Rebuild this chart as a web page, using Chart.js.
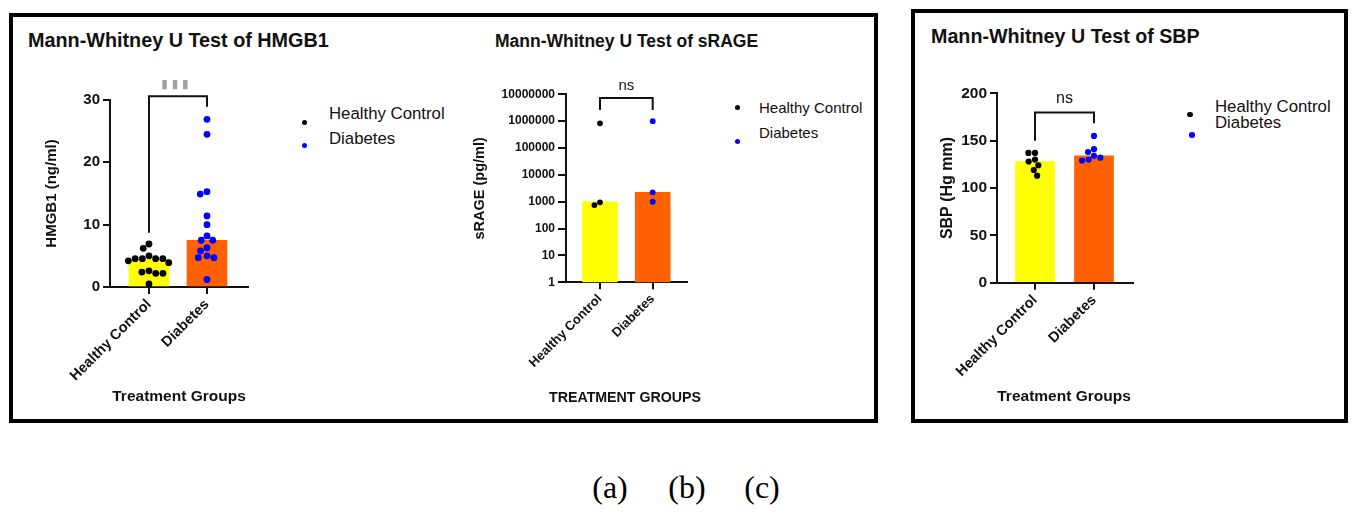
<!DOCTYPE html>
<html>
<head>
<meta charset="utf-8">
<script src="https://cdn.jsdelivr.net/npm/chart.js@4.4.1/dist/chart.umd.min.js"></script>
<style>
body{margin:0;background:#fff;width:1357px;height:514px;position:relative;overflow:hidden;font-family:'Liberation Sans',Arial,sans-serif;}
.box{position:absolute;border:4px solid #000;box-sizing:border-box;}
canvas{position:absolute;}
.t{position:absolute;font-weight:bold;white-space:nowrap;color:#111;line-height:1;}
.xt{position:absolute;font-weight:bold;white-space:nowrap;color:#111;line-height:1;transform:translateX(-50%);}
.lg{position:absolute;white-space:nowrap;color:#111;line-height:1;}
.dot{position:absolute;border-radius:50%;}
.cap{position:absolute;font-family:'Liberation Serif','Times New Roman',serif;font-size:32px;line-height:1;transform:translateX(-50%);}
</style>
</head>
<body>
<div class="box" style="left:9px;top:13px;width:869px;height:410px"></div>
<div class="box" style="left:911px;top:9px;width:437px;height:414px"></div>

<div class="t" style="left:28px;top:31.4px;font-size:19.8px">Mann-Whitney U Test of HMGB1</div>
<div class="t" style="left:495px;top:32.7px;font-size:17.5px">Mann-Whitney U Test of sRAGE</div>
<div class="t" style="left:931px;top:27.3px;font-size:19.7px">Mann-Whitney U Test of SBP</div>

<span class="dot" style="left:302px;top:120px;width:5px;height:5px;background:#000"></span>
<span class="dot" style="left:302px;top:143px;width:5px;height:5px;background:#0000ff"></span>
<div class="lg" style="left:329px;top:105.5px;font-size:16.8px">Healthy Control</div>
<div class="lg" style="left:329px;top:131.1px;font-size:16.8px">Diabetes</div>

<span class="dot" style="left:735px;top:105px;width:5px;height:5px;background:#000"></span>
<span class="dot" style="left:735px;top:138.5px;width:5px;height:5px;background:#0000ff"></span>
<div class="lg" style="left:759px;top:99.7px;font-size:15px">Healthy Control</div>
<div class="lg" style="left:759px;top:124.7px;font-size:15px">Diabetes</div>

<span class="dot" style="left:1187px;top:111.5px;width:5.5px;height:5.5px;background:#000"></span>
<span class="dot" style="left:1189px;top:132px;width:5.5px;height:5.5px;background:#0000ff"></span>
<div class="lg" style="left:1215px;top:98.5px;font-size:16.8px">Healthy Control</div>
<div class="lg" style="left:1215px;top:115.1px;font-size:16.8px">Diabetes</div>

<canvas id="hmgb" width="255" height="355" style="left:13px;top:60px"></canvas>
<canvas id="rage" width="260" height="355" style="left:450px;top:60px"></canvas>
<canvas id="sbp" width="230" height="360" style="left:918px;top:55px"></canvas>

<div class="xt" style="left:179px;top:388.4px;font-size:15.5px">Treatment Groups</div>
<div class="xt" style="left:625px;top:389.8px;font-size:14.2px">TREATMENT GROUPS</div>
<div class="xt" style="left:1064px;top:388.4px;font-size:15.5px">Treatment Groups</div>

<div class="cap" style="left:610px;top:471px">(a)</div>
<div class="cap" style="left:687px;top:471px">(b)</div>
<div class="cap" style="left:762px;top:471px">(c)</div>

<script>
// groups
const groups = ['Healthy Control', 'Diabetes'];

// HMGB1 (ng/ml)
const hmgbControl = [6.9, 6.2, 5.0, 4.55, 4.55, 4.55, 4.55, 4.2, 3.9, 2.6, 2.4, 2.2, 2.2, 0.5];
const hmgbDiabetes = [26.9, 24.5, 15.3, 14.9, 11.4, 10.0, 8.2, 7.5, 7.5, 6.3, 5.8, 5.0, 4.7, 4.7, 1.2];
const hmgbBars = [4.5, 7.5];
const hmgbTicks = [0, 10, 20, 30];

// sRAGE (pg/ml)
const rageControl = [830000, 950, 750];
const rageDiabetes = [1000000, 2240, 1000];
const rageBars = [1000, 2240];
const rageTicks = [1, 10, 100, 1000, 10000, 100000, 1000000, 10000000];

// SBP (Hg mm)
const sbpControl = [137, 137, 130, 128, 124, 119, 113];
const sbpDiabetes = [155, 141, 138, 134, 132, 130, 129];
const sbpBars = [128, 134];
const sbpTicks = [0, 50, 100, 150, 200];

Chart.defaults.font.family = "'Liberation Sans', Arial, sans-serif";
Chart.defaults.color = '#111';

const bracketPlugin = {
  id: 'bracket',
  afterDraw(chart, args, o) {
    const {ctx, scales: {x, y}} = chart;
    const xl = x.getPixelForValue(0), xr = x.getPixelForValue(1);
    const yl = y.getPixelForValue(o.left), yt = y.getPixelForValue(o.top), yr = y.getPixelForValue(o.right);
    ctx.save();
    ctx.strokeStyle = '#111';
    ctx.lineWidth = 2;
    ctx.beginPath();
    ctx.moveTo(xl, yl); ctx.lineTo(xl, yt); ctx.lineTo(xr, yt); ctx.lineTo(xr, yr);
    ctx.stroke();
    ctx.fillStyle = o.color;
    ctx.font = o.font;
    ctx.textAlign = 'center';
    ctx.textBaseline = 'middle';
    ctx.fillText(o.text, (xl + xr) / 2 - (o.shift || 0), yt - o.gap);
    ctx.restore();
  }
};

// beeswarm: push dots sideways (in pixels) until they no longer overlap
function swarmOffset(placed, py, d) {
  const blocked = placed.filter(p => Math.abs(p.y - py) < d).map(p => {
    const w = Math.sqrt(d * d - (p.y - py) * (p.y - py));
    return [p.x - w, p.x + w];
  });
  const cands = [0];
  blocked.forEach(b => cands.push(b[0], b[1]));
  cands.sort((a, b) => Math.abs(a) - Math.abs(b));
  return cands.find(c => blocked.every(b => c <= b[0] + 1e-6 || c >= b[1] - 1e-6));
}

function spread(chart, sets, r) {
  const xs = chart.scales.x, ys = chart.scales.y;
  const unit = xs.getPixelForValue(1) - xs.getPixelForValue(0);
  sets.forEach((vals, g) => {
    const placed = [];
    chart.data.datasets[g].data = vals.map(v => {
      const py = ys.getPixelForValue(v);
      const off = swarmOffset(placed, py, 2 * r + 0.4);
      placed.push({x: off, y: py});
      return {x: g + off / unit, y: v};
    });
  });
  chart.update('none');
}

function makeChart(id, o) {
  const chart = new Chart(document.getElementById(id), {
    type: 'bar',
    data: {
      datasets: [
        {type: 'scatter', data: o.control.map(v => ({x: 0, y: v})), backgroundColor: '#000', pointRadius: o.r, pointBorderWidth: 0, order: 1},
        {type: 'scatter', data: o.diabetes.map(v => ({x: 1, y: v})), backgroundColor: '#0000ff', pointRadius: o.r, pointBorderWidth: 0, order: 1},
        {data: o.bars.map((v, i) => ({x: i, y: v})), backgroundColor: ['#ffff00', '#ff6000'], barThickness: o.barW, order: 2}
      ]
    },
    options: {
      responsive: false,
      animation: false,
      events: [],
      layout: {padding: {left: 0, right: o.padR, top: o.padT, bottom: 0}},
      plugins: {
        legend: {display: false},
        tooltip: {enabled: false},
        bracket: o.bracket
      },
      scales: {
        x: {
          type: 'linear', min: o.xMin, max: o.xMax, offset: false, bounds: 'data',
          afterBuildTicks: s => { s.ticks = [{value: 0}, {value: 1}]; },
          afterFit: s => { s.height = o.xH; },
          ticks: {callback: v => groups[v], minRotation: 45, maxRotation: 45, autoSkip: false, padding: 2,
                  font: {weight: 'bold', size: o.xFont}},
          grid: {drawOnChartArea: false, offset: false, color: '#111', lineWidth: 2, tickLength: 7},
          border: {color: '#111', width: 2}
        },
        y: {
          type: o.log ? 'logarithmic' : 'linear',
          min: o.ticks[0], max: o.ticks[o.ticks.length - 1],
          afterBuildTicks: s => { s.ticks = o.ticks.map(v => ({value: v})); },
          afterFit: s => { s.width = o.yW; },
          ticks: {callback: v => String(v), padding: 3, font: {weight: 'bold', size: o.yFont}},
          grid: {drawOnChartArea: false, color: '#111', lineWidth: 2, tickLength: o.tickL},
          border: {color: '#111', width: 2},
          title: {display: true, text: o.yTitle, font: {weight: 'bold', size: o.yTitleSize}, padding: {top: o.yTitlePad, bottom: 0}}
        }
      }
    },
    plugins: [bracketPlugin]
  });
  spread(chart, [o.control, o.diabetes], o.r);
  return chart;
}

makeChart('hmgb', {
  control: hmgbControl, diabetes: hmgbDiabetes, bars: hmgbBars, ticks: hmgbTicks, log: false,
  r: 3.4, barW: 40, padR: 20, padT: 40, xMin: -0.672, xMax: 1.707, xH: 128, yW: 97,
  xFont: 14.5, yFont: 15, tickL: 7,
  yTitle: 'HMGB1 (ng/ml)', yTitleSize: 15, yTitlePad: 30,
  bracket: {left: 8.7, top: 30.6, right: 28.9, text: '\u25AE \u25AE \u25AE', color: '#a0a0a0', font: "12px 'DejaVu Sans'", gap: 11, shift: 3}
});

makeChart('rage', {
  control: rageControl, diabetes: rageDiabetes, bars: rageBars, ticks: rageTicks, log: true,
  r: 2.9, barW: 35, padR: 23, padT: 34.3, xMin: -0.645, xMax: 1.651, xH: 132.7, yW: 116,
  xFont: 13, yFont: 12, tickL: 8,
  yTitle: 'sRAGE (pg/ml)', yTitleSize: 14.5, yTitlePad: 21.3,
  bracket: {left: 2600000, top: 7300000, right: 2600000, text: 'ns', color: '#111', font: "15px 'Liberation Sans'", gap: 12}
});

makeChart('sbp', {
  control: sbpControl, diabetes: sbpDiabetes, bars: sbpBars, ticks: sbpTicks, log: false,
  r: 3.1, barW: 39, padR: 15, padT: 38.3, xMin: -0.644, xMax: 1.661, xH: 132.3, yW: 79,
  xFont: 14.5, yFont: 15.5, tickL: 7,
  yTitle: 'SBP (Hg mm)', yTitleSize: 16, yTitlePad: 20.4,
  bracket: {left: 150, top: 179.6, right: 168.4, text: 'ns', color: '#111', font: "16px 'Liberation Sans'", gap: 13.7}
});
</script>
</body>
</html>
